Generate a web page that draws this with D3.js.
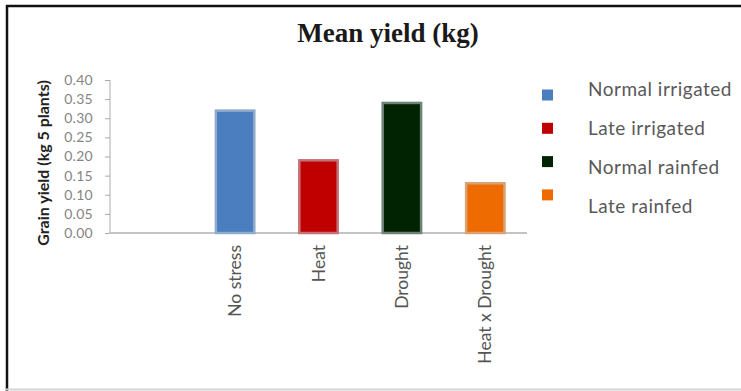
<!DOCTYPE html>
<html>
<head>
<meta charset="utf-8">
<script src="https://cdn.jsdelivr.net/npm/d3@7"></script>
<style>
  html, body { margin: 0; padding: 0; background: #fff; }
  svg { display: block; }
</style>
</head>
<body>
<svg id="chart" width="741" height="391"></svg>
<script>
// Chart content
const chartTitle = "Mean yield (kg)";
const yAxisTitle = "Grain yield (kg 5 plants)";
const categories = ["", "No stress", "Heat", "Drought", "Heat x Drought"];
const seriesNames = ["Normal irrigated", "Late irrigated", "Normal rainfed", "Late rainfed"];
const seriesColors = ["#4a7ebf", "#c00000", "#012301", "#ed6b00"];
// one value per stress treatment, each drawn in its series colour
const barCategories = ["No stress", "Heat", "Drought", "Heat x Drought"];
const barValues = [0.32, 0.19, 0.34, 0.13];
const yTicks = [0.00, 0.05, 0.10, 0.15, 0.20, 0.25, 0.30, 0.35, 0.40];

const svg = d3.select("#chart");
const W = 741, H = 391;

// outer frame: dark top/left edge, faint bottom edge
svg.append("rect").attr("width", W).attr("height", H).attr("fill", "#fff");
svg.append("line").attr("x1", 6).attr("x2", W).attr("y1", 6).attr("y2", 6)
  .attr("stroke", "#111").attr("stroke-width", 2.5);
svg.append("line").attr("x1", 7).attr("x2", 7).attr("y1", 5).attr("y2", H)
  .attr("stroke", "#111").attr("stroke-width", 2.5);
svg.append("line").attr("x1", 6).attr("x2", W).attr("y1", 389.5).attr("y2", 389.5)
  .attr("stroke", "#d4d4d4").attr("stroke-width", 2);

// title
svg.append("text")
  .attr("x", 388).attr("y", 42)
  .attr("text-anchor", "middle")
  .attr("font-family", "'Liberation Serif', 'Times New Roman', serif")
  .attr("font-weight", "bold")
  .attr("font-size", 27)
  .attr("fill", "#1a1a1a")
  .text(chartTitle);

// scales
const x = d3.scaleBand()
  .domain(categories)
  .range([110, 527])
  .paddingInner(0.54)
  .paddingOuter(0.27);

const y = d3.scaleLinear()
  .domain([0, 0.4])
  .range([233, 80]);

// y axis
const yAxis = d3.axisLeft(y)
  .tickValues(yTicks)
  .tickSize(5)
  .tickPadding(12)
  .tickFormat(d3.format(".2f"));

const gy = svg.append("g").attr("transform", "translate(110,0)").call(yAxis);
gy.select(".domain").attr("stroke", "#d6d6d6").attr("stroke-width", 2)
  .attr("d", `M0,${y(0.4)}V${y(0)}`);
gy.selectAll(".tick line").attr("stroke", "#a8a8a8");
gy.selectAll(".tick text")
  .attr("font-family", "Lato, 'Open Sans', sans-serif")
  .attr("font-size", 14)
  .attr("letter-spacing", 0.3)
  .attr("fill", "#858585");

// x axis baseline and category labels
svg.append("line")
  .attr("x1", 109).attr("x2", x.range()[1])
  .attr("y1", y(0)).attr("y2", y(0))
  .attr("stroke", "#c4c4c4").attr("stroke-width", 2);

svg.append("g").selectAll("text")
  .data(categories.filter(c => c !== ""))
  .join("text")
  .attr("transform", d => `translate(${x(d) + x.bandwidth() / 2},245) rotate(-90)`)
  .attr("text-anchor", "end")
  .attr("dy", "0.35em")
  .attr("font-family", "Lato, 'Open Sans', sans-serif")
  .attr("font-size", 17.5)
  .attr("fill", "#555")
  .text(d => d);

// y axis title
svg.append("text")
  .attr("transform", "translate(43,163) rotate(-90)")
  .attr("text-anchor", "middle")
  .attr("dy", "0.35em")
  .attr("font-family", "Lato, 'Open Sans', sans-serif")
  .attr("font-weight", "bold")
  .attr("font-size", 16)
  .attr("fill", "#222")
  .text(yAxisTitle);

// bars
svg.append("g").selectAll("rect")
  .data(barCategories.map((c, i) => ({ c, v: barValues[i], color: seriesColors[i] })))
  .join("rect")
  .attr("x", d => x(d.c))
  .attr("width", x.bandwidth())
  .attr("y", d => y(d.v))
  .attr("height", d => y(0) - y(d.v))
  .attr("fill", d => d.color)
  .attr("stroke", d => d3.interpolateRgb(d.color, "#c8d0d4")(0.55))
  .attr("stroke-width", 2.5);

// legend
const legend = svg.append("g");
seriesNames.forEach((name, i) => {
  legend.append("rect")
    .attr("x", 542).attr("y", 89.5 + i * 33.3)
    .attr("width", 11).attr("height", 11)
    .attr("fill", seriesColors[i]);
  legend.append("text")
    .attr("x", 588).attr("y", 96 + i * 38.9)
    .attr("font-family", "Lato, 'Open Sans', sans-serif")
    .attr("font-size", 19)
    .attr("letter-spacing", 0.5)
    .attr("fill", "#595959")
    .text(name);
});
</script>
</body>
</html>
